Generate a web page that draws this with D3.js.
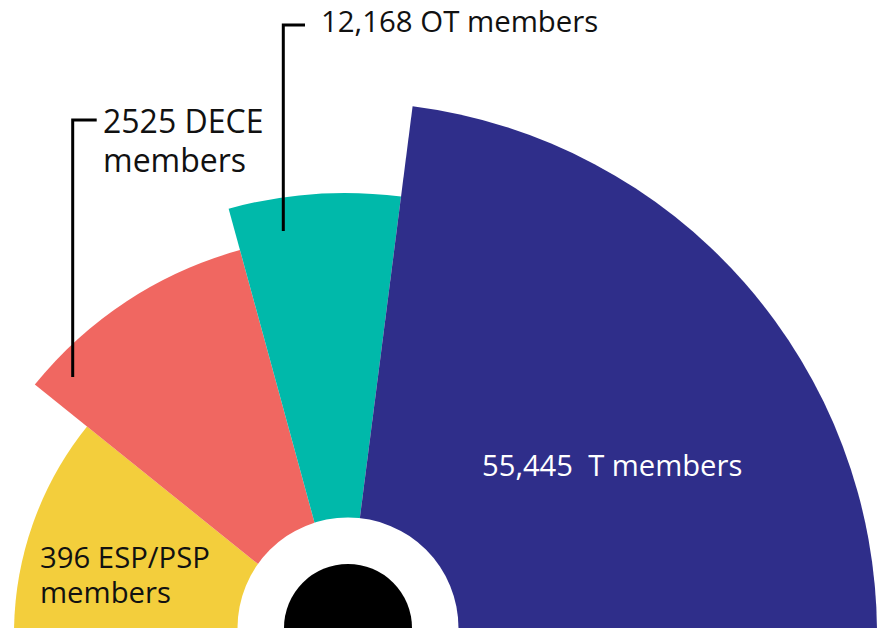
<!DOCTYPE html>
<html>
<head>
<meta charset="utf-8">
<script src="https://cdn.jsdelivr.net/npm/d3@7"></script>
<style>
  body { margin: 0; background: #fff; }
  svg { display: block; }
  text { font-family: "Open Sans", "Noto Sans", sans-serif; white-space: pre; }
</style>
</head>
<body>
<svg id="chart"></svg>
<script>
// data
const categories = ["ESP/PSP", "DECE", "OT", "T"];
const members = [396, 2525, 12168, 55445];
const labelLines = [
  ["396 ESP/PSP", "members"],
  ["2525 DECE", "members"],
  ["12,168 OT members"],
  ["55,445  T members"]
];

const canvasWidth = 882;
const canvasHeight = 633;
const baseY = 628;

// layout of the fan (degrees measured from the left horizontal)
const edgeDegrees = [0, 38.8, 74.7, 97.3, 180];
const outerRadii = [331, 398, 441, 532];
const colours = ["#f3ce3c", "#f06761", "#00b9aa", "#2f2e8a"];

const svg = d3.select("#chart")
  .attr("width", canvasWidth)
  .attr("height", canvasHeight);

svg.append("clipPath").attr("id", "clip")
  .append("rect").attr("x", 0).attr("y", 0)
  .attr("width", canvasWidth).attr("height", baseY);

const angle = d3.scaleLinear().domain([0, 180]).range([-Math.PI / 2, Math.PI / 2]);
const radius = d3.scaleOrdinal().domain(categories).range(outerRadii);
const colour = d3.scaleOrdinal().domain(categories).range(colours);

const slices = categories.map((c, i) => ({
  cat: c,
  value: members[i],
  start: angle(edgeDegrees[i]),
  end: angle(edgeDegrees[i + 1])
}));

const wedgeArc = d3.arc()
  .innerRadius(0)
  .outerRadius(d => radius(d.cat))
  .startAngle(d => d.start)
  .endAngle(d => d.end);

const fan = svg.append("g").attr("clip-path", "url(#clip)");

fan.append("g")
  .attr("transform", "translate(345,634)")
  .selectAll("path")
  .data(slices).enter()
  .append("path")
  .attr("d", wedgeArc)
  .attr("fill", d => colour(d.cat));

const hub = fan.append("g").attr("transform", "translate(348," + baseY + ")");
const halfDisc = d3.arc().innerRadius(0).startAngle(-Math.PI / 2).endAngle(Math.PI / 2);
hub.append("path").attr("d", halfDisc.outerRadius(110.5)()).attr("fill", "#fff");
hub.append("path").attr("d", halfDisc.outerRadius(64)()).attr("fill", "#000");

// leader lines
const leaders = [
  [[96.7, 120], [72.7, 120], [72.7, 377]],
  [[305, 25], [283.3, 25], [283.3, 231]]
];
svg.selectAll(".leader")
  .data(leaders).enter()
  .append("path")
  .attr("class", "leader")
  .attr("d", d3.line())
  .attr("fill", "none")
  .attr("stroke", "#000")
  .attr("stroke-width", 3);

// labels
const labelSpots = [
  {x: 40, y: 567.7, size: 29.3, gap: 35.6, fill: "#111"},
  {x: 103, y: 133.3, size: 32, gap: 38.4, fill: "#111"},
  {x: 321, y: 31.7, size: 29.4, gap: 0, fill: "#111"},
  {x: 482, y: 476, size: 29.2, gap: 0, fill: "#fff"}
];

svg.selectAll(".label")
  .data(slices).enter()
  .append("text")
  .attr("class", "label")
  .attr("x", (d, i) => labelSpots[i].x)
  .attr("y", (d, i) => labelSpots[i].y)
  .attr("font-size", (d, i) => labelSpots[i].size)
  .attr("fill", (d, i) => labelSpots[i].fill)
  .each(function (d, i) {
    d3.select(this).selectAll("tspan")
      .data(labelLines[i]).enter()
      .append("tspan")
      .attr("x", labelSpots[i].x)
      .attr("dy", (t, j) => j === 0 ? 0 : labelSpots[i].gap)
      .text(t => t);
  });
</script>
</body>
</html>
